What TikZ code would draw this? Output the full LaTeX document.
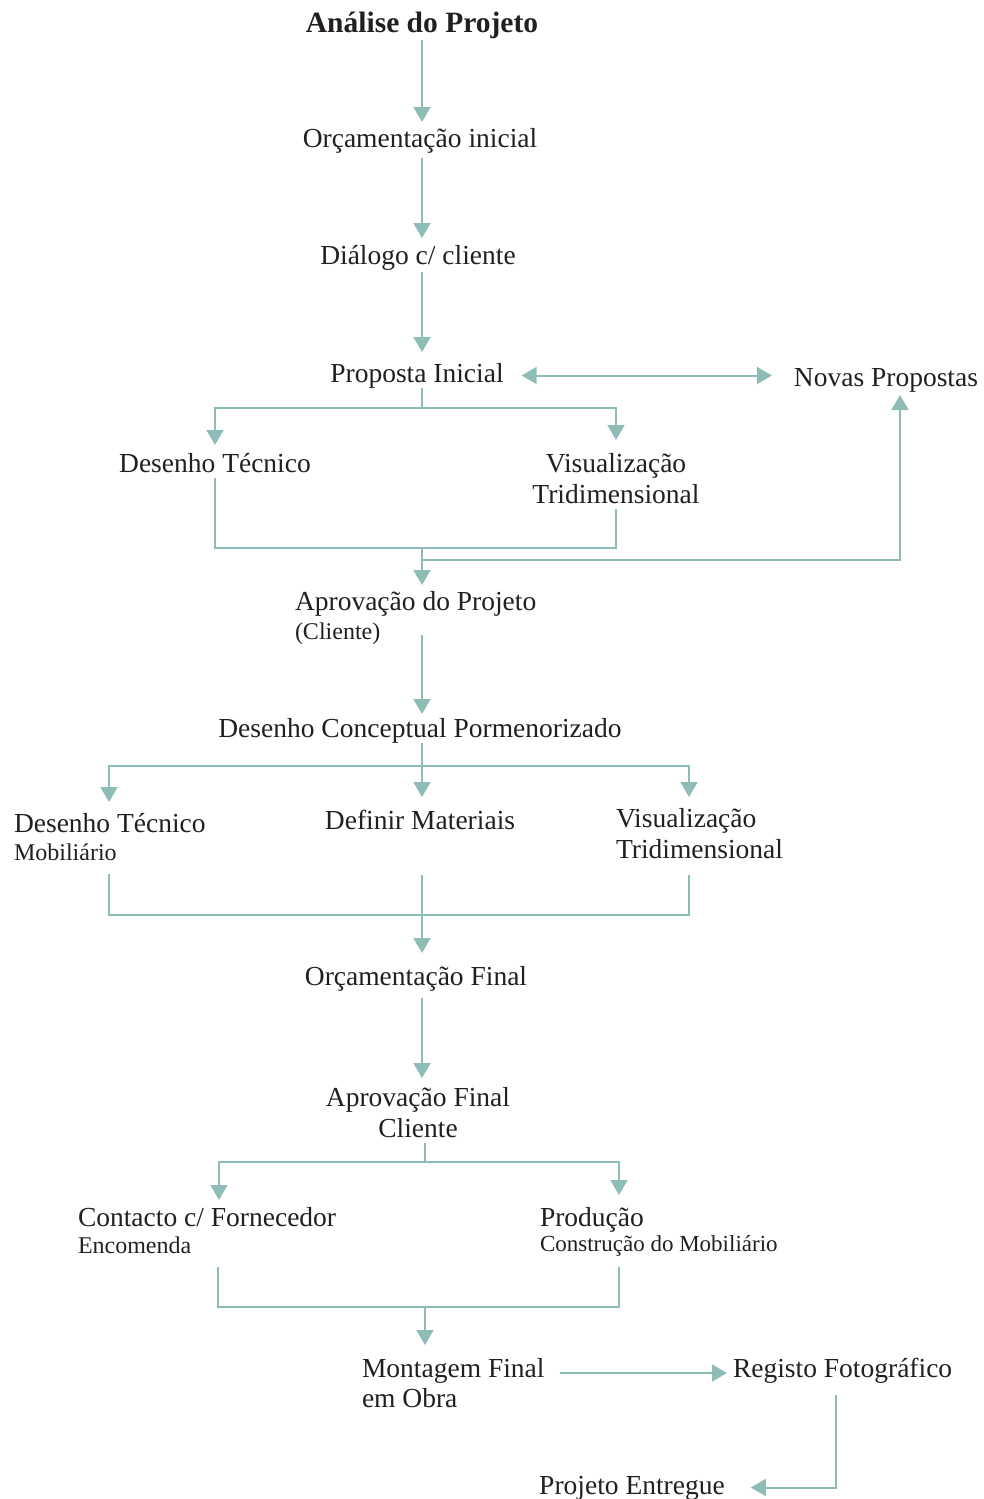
\documentclass[tikz,border=0pt]{standalone}
\usepackage{fontspec}
\setmainfont{Liberation Serif}
\usetikzlibrary{arrows.meta}
\definecolor{tealc}{RGB}{141,189,182}
\definecolor{txt}{RGB}{35,31,32}
\newcommand\hiStrut{\rule{0pt}{19pt}}
\newcommand\loStrut{\rule[-6pt]{0pt}{6pt}}
\newcommand\smallA{\fontsize{24}{31}\selectfont}
\newcommand\smallB{\fontsize{23}{31}\selectfont}
\begin{document}
\begin{tikzpicture}[x=1pt,y=-1pt,
  lbl/.style={inner sep=0pt, outer sep=0pt, text=txt, font=\fontsize{27.5}{31}\selectfont},
  one/.style={lbl, text height=19pt, text depth=6pt, anchor=base},
  multi/.style={lbl, align=left, anchor=north west},
  line/.style={draw=tealc, line width=2pt},
  arr/.style={line, -{Triangle[width=17pt,length=15pt]}},
  darr/.style={line, {Triangle[width=17pt,length=15pt]}-{Triangle[width=17pt,length=15pt]}}
]
\useasboundingbox (0,0) rectangle (984,1499);

% nodes
\node[one, font=\bfseries\fontsize{29.5}{31}\selectfont] (t0) at (422,32) {Análise do Projeto};
\node[one] (t1) at (420,147) {Orçamentação inicial};
\node[one] (t2) at (418,264) {Diálogo c/ cliente};
\node[one] (t3) at (417,382) {Proposta Inicial};
\node[one] (np) at (886,386) {Novas Propostas};
\node[one] (dt1) at (215,472) {Desenho Técnico};
\node[multi, align=center, anchor=north] (vt1) at (616,453) {\hiStrut Visualização\\Tridimensional\loStrut};
\node[multi] (ap) at (295,591) {\hiStrut Aprovação do Projeto\\[-2pt]{\smallA (Cliente)}\loStrut};
\node[one] (dc) at (420,737) {Desenho Conceptual Pormenorizado};
\node[multi] (dt2) at (14,813) {\hiStrut Desenho Técnico\\[-3pt]{\smallA Mobiliário}\loStrut};
\node[one] (dm) at (420,829) {Definir Materiais};
\node[multi] (vt2) at (616,808) {\hiStrut Visualização\\Tridimensional\loStrut};
\node[one] (of) at (416,985) {Orçamentação Final};
\node[multi, align=center, anchor=north] (af) at (418,1087) {\hiStrut Aprovação Final\\Cliente\loStrut};
\node[multi] (cf) at (78,1207) {\hiStrut Contacto c/ Fornecedor\\[-4pt]{\smallA Encomenda}\loStrut};
\node[multi] (pr) at (540,1207) {\hiStrut Produção\\[-6pt]{\smallB Construção do Mobiliário}\loStrut};
\node[multi] (mf) at (362,1358) {\hiStrut Montagem Final\\[-1pt]em Obra\loStrut};
\node[one, anchor=base west] (rf) at (733,1377) {Registo Fotográfico};
\node[one] (pe) at (632,1494) {Projeto Entregue};

% junctions
\coordinate (cx) at (422,0);
\coordinate (j1) at (422,408);
\coordinate (j2) at (422,548);
\coordinate (j3) at (422,560);
\coordinate (j5) at (422,766);
\coordinate (j6) at (422,915);
\coordinate (j7) at (425,1162);
\coordinate (j8) at (425,1307);

% connectors
\draw[arr, shorten <=2pt, shorten >=6pt] (t0.south -| cx) -- (t1.north -| cx);
\draw[arr, shorten <=5pt, shorten >=7pt] (t1.south -| cx) -- (t2.north -| cx);
\draw[arr, shorten <=2pt, shorten >=11pt] (t2.south -| cx) -- (t3.north -| cx);
\draw[darr, shorten <=18pt, shorten >=22pt] (t3.east) -- (t3.east -| np.west);
\draw[line] (t3.south -| cx) -- (j1);
\draw[arr, shorten >=8pt] (j1) -| (dt1.north);
\draw[arr, shorten >=13pt] (j1) -| (vt1.north);
\draw[line] (dt1.south) |- (j2) -| (vt1.south);
\draw[arr, shorten >=6pt] (j2) -- (j2 |- ap.north);
\draw[arr, shorten >=3pt] (j3) -| ([xshift=14pt]np.south);
\draw[arr, shorten <=-10pt, shorten >=4pt] (ap.south -| cx) -- (dc.north -| cx);
\draw[line] (dc.south -| cx) -- (j5);
\draw[arr, shorten >=11pt] (j5) -| ([xshift=95pt]dt2.north west);
\draw[arr, shorten >=13pt] (j5) -- (j5 |- dm.north);
\draw[arr, shorten >=11pt] (j5) -| ([xshift=73pt]vt2.north west);
\draw[line, shorten <=8pt, shorten >=11pt] ([xshift=95pt]dt2.south west) |- (j6) -| ([xshift=73pt]vt2.south west);
\draw[arr, shorten <=40pt, shorten >=13pt] (dm.south -| cx) -- (of.north -| cx);
\draw[arr, shorten <=7pt, shorten >=9pt] (of.south -| cx) -- (af.north -| cx);
\draw[line] (af.south -| j7) -- (j7);
\draw[arr, shorten >=7pt] (j7) -| ([xshift=141pt]cf.north west);
\draw[arr, shorten >=12pt] (j7) -| ([xshift=79pt]pr.north west);
\draw[line, shorten <=8pt, shorten >=10pt] ([xshift=140pt]cf.south west) |- (j8) -| ([xshift=79pt]pr.south west);
\draw[arr, shorten >=13pt] (j8) -- (j8 |- mf.north);
\draw[arr, shorten <=15pt, shorten >=6pt] ([yshift=-15pt]mf.north east) -- ([yshift=-15pt]mf.north east -| rf.west);
\draw[arr, shorten <=12pt, shorten >=26pt] ([xshift=103pt]rf.south west) |- (pe.east);
\end{tikzpicture}
\end{document}
